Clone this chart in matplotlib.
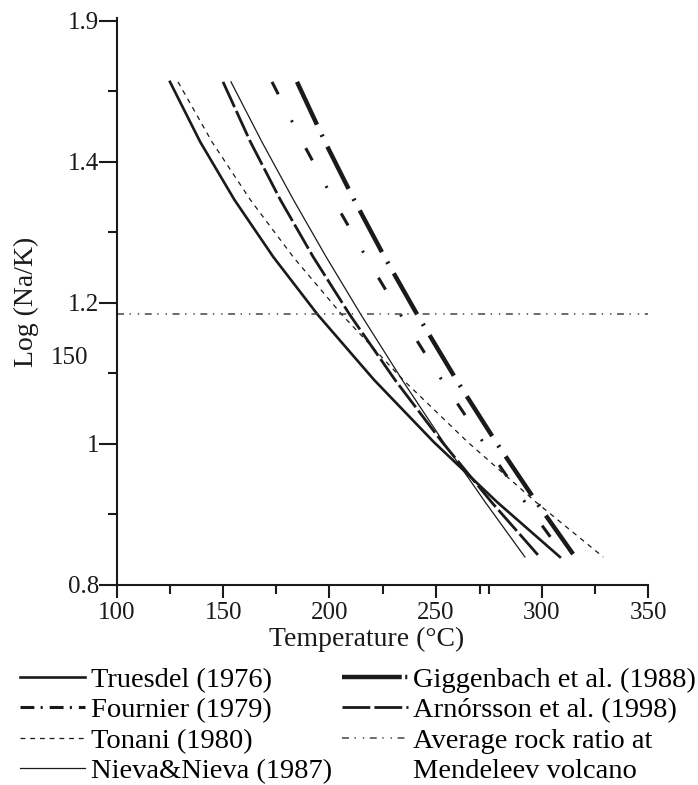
import numpy as np
import matplotlib.pyplot as plt
from matplotlib.lines import Line2D

plt.rcParams['font.family'] = ['Liberation Serif', 'DejaVu Serif']
plt.rcParams['lines.scale_dashes'] = False

# Na/K geothermometer curves
# (y is the drawn axis position; the top tick is labelled 1.9 in the original)
log_nak = [1.5135, 1.4284, 1.3461, 1.2652, 1.1830, 1.0908, 1.0028, 0.9177, 0.8397]

truesdel_t = [124.95, 139.17, 155.32, 173.59, 194.59, 221.05, 249.11, 278.91, 308.52]
fournier_t = [172.98, 187.29, 201.93, 217.23, 233.57, 252.87, 272.32, 292.04, 310.92]
tonani_t = [128.72, 144.73, 162.81, 182.96, 205.98, 234.75, 265.07, 297.18, 328.91]
nieva_t = [153.67, 168.22, 183.10, 198.49, 214.92, 234.27, 253.67, 273.31, 292.04]
giggenbach_t = [184.75, 197.93, 211.63, 225.94, 241.43, 259.79, 278.39, 297.41, 315.68]
arnorsson_t = [149.91, 162.81, 176.93, 192.37, 209.65, 230.89, 253.06, 276.27, 299.01]

rock_ratio = 1.184

yticks = [0.8, 1.0, 1.2, 1.4, 1.6]
yticklabels = ['0.8', '1', '1.2', '1.4', '1.9']
xticks = [100, 150, 200, 250, 300, 350]

ink = '#1a1a1a'

# line styles: (plot dash pattern, legend dash pattern)
st_truesdel = dict(color=ink, lw=1.9)
st_fournier = dict(color=ink, lw=2.2)
st_tonani = dict(color=ink, lw=0.9, linestyle=(0, (3.5, 3.5)))
st_nieva = dict(color=ink, lw=0.9)
st_giggen = dict(color=ink, lw=3.2)
st_arnors = dict(color=ink, lw=2.0, linestyle=(0, (20, 3)))
st_rock = dict(color='#444444', lw=1.1, linestyle=(0, (5, 4, 1, 5, 1, 4)))

fig = plt.figure(figsize=(6.98, 7.85), dpi=100)
ax = fig.add_axes([0.1676, 0.2548, 0.7608, 0.7222])

ax.plot(truesdel_t, log_nak, **st_truesdel)
ax.plot(fournier_t, log_nak, linestyle=(0, (10, 21, 1.5, 21)), **st_fournier)
ax.plot(tonani_t, log_nak, **st_tonani)
ax.plot(nieva_t, log_nak, **st_nieva)
ax.plot(giggenbach_t, log_nak, linestyle=(0, (34, 8, 1.5, 8)), **st_giggen)
ax.plot(arnorsson_t, log_nak, **st_arnors)
ax.axhline(rock_ratio, **st_rock)

ax.set_xlim(100, 350)
ax.set_ylim(0.8, 1.604)
ax.set_xticks(xticks)
ax.set_xticks([125, 175, 225, 271, 275, 325], minor=True)
ax.set_yticks(yticks)
ax.set_yticklabels(yticklabels)
ax.set_yticks([0.9, 1.1, 1.3, 1.5], minor=True)

for s in ['top', 'right']:
    ax.spines[s].set_visible(False)
for s in ['left', 'bottom']:
    ax.spines[s].set_linewidth(1.5)
    ax.spines[s].set_color(ink)

ax.tick_params(axis='x', which='major', length=9.5, width=1.5, pad=3, labelsize=18, colors=ink)
ax.tick_params(axis='x', which='minor', length=6.5, width=1.5, colors=ink)
ax.tick_params(axis='y', which='major', length=13, width=1.5, pad=0, labelsize=18, colors=ink)
ax.tick_params(axis='y', which='minor', length=6.5, width=1.5, colors=ink)

# stray label left on the y axis in the original
ax.text(-0.054, 1.122, '150', transform=ax.get_yaxis_transform(), ha='right', va='center',
        fontsize=18, color=ink)

ax.set_xlabel('Temperature (°C)', fontsize=20, color=ink)
ax.xaxis.set_label_coords(0.471, -0.074)
ax.set_ylabel('Log (Na/K)', fontsize=20, color=ink)
ax.yaxis.set_label_coords(-0.147, 0.5)

handles = [
    Line2D([], [], **st_truesdel),
    Line2D([], [], linestyle=(0, (10, 4.5, 1.5, 5)), **st_fournier),
    Line2D([], [], **st_tonani),
    Line2D([], [], **st_nieva),
    Line2D([], [], linestyle=(0, (43, 2.5, 1.5, 10)), **st_giggen),
    Line2D([], [], **st_arnors),
    Line2D([], [], **st_rock),
    Line2D([], [], linestyle='none'),
]
labels = ['Truesdel (1976)', 'Fournier (1979)', 'Tonani (1980)', 'Nieva&Nieva (1987)',
          'Giggenbach et al. (1988)', 'Arnórsson et al. (1998)', 'Average rock ratio at',
          'Mendeleev volcano']
fig.legend(handles, labels, ncol=2, loc='upper left', bbox_to_anchor=(20 / 698, 1 - 667 / 785),
           frameon=False, fontsize=20.5, handlelength=2.3, handletextpad=0.2,
           columnspacing=0.35, labelspacing=0.16, borderpad=0, borderaxespad=0)

fig.savefig('out.png', dpi=100)
